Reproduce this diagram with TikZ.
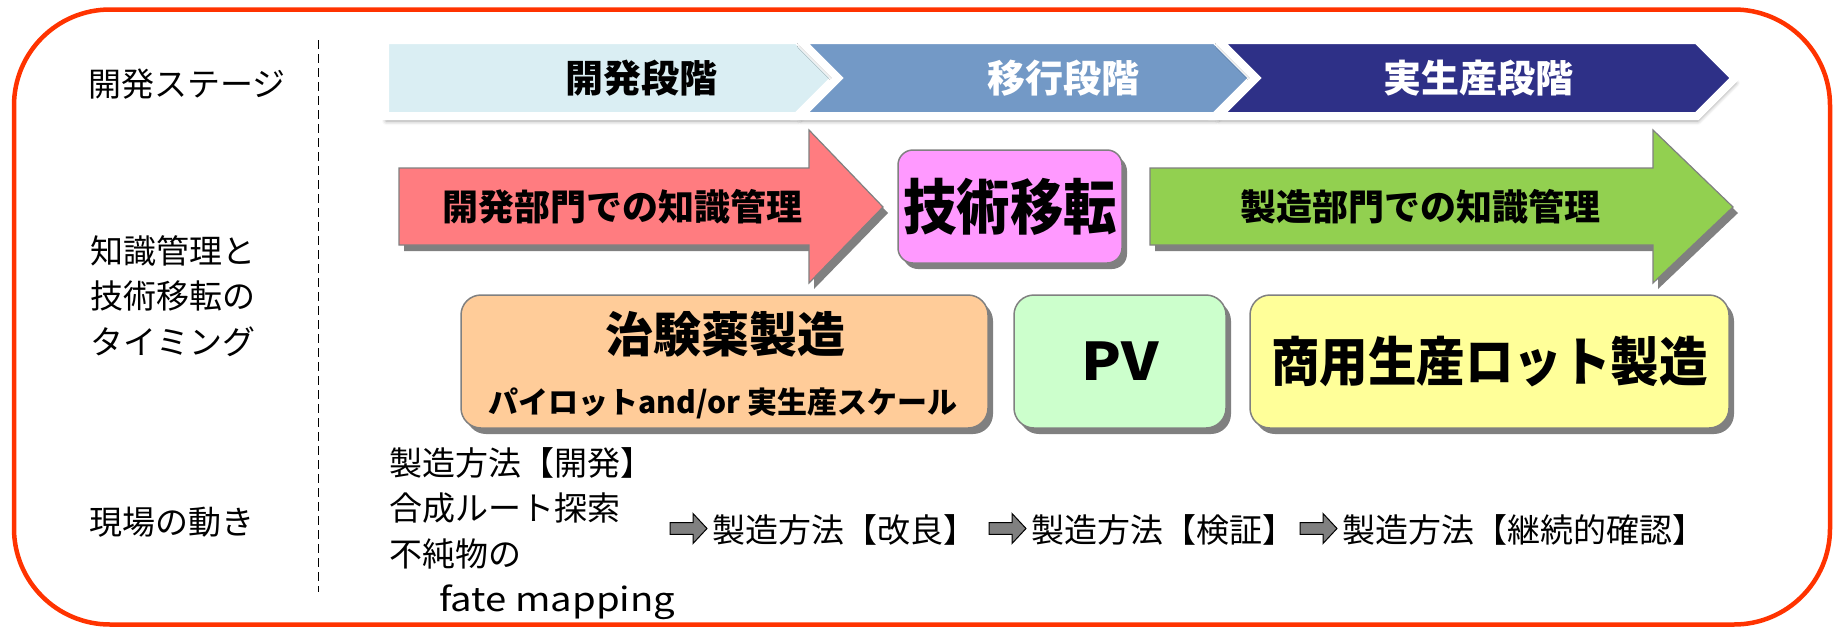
\documentclass[tikz,border=0pt]{standalone}
\usepackage{fontspec}
\usepackage{graphicx}
\newfontfamily\jp{Noto Sans CJK JP}
\usetikzlibrary{shadows,shadows.blur}
\definecolor{framered}{HTML}{FF3300}
\definecolor{stageA}{HTML}{DAEEF3}
\definecolor{stageB}{HTML}{7399C6}
\definecolor{stageC}{HTML}{2E3087}
\definecolor{devred}{HTML}{FF7C80}
\definecolor{mfggreen}{HTML}{92D050}
\definecolor{ttpink}{HTML}{FF99FF}
\definecolor{boxorange}{HTML}{FFCC99}
\definecolor{boxgreen}{HTML}{CCFFCC}
\definecolor{boxyellow}{HTML}{FFFF99}
\definecolor{edgegrey}{HTML}{808080}
\tikzset{
  chev/.style={draw=white, line width=8pt, line join=miter,
    blur shadow={shadow xshift=1pt, shadow yshift=-5pt, shadow blur radius=4pt, shadow opacity=40}},
  hardshadow/.style={drop shadow={shadow xshift=5pt, shadow yshift=-6pt, opacity=1, fill=black!50}},
  bigarrow/.style={draw=edgegrey, line width=1.2pt, hardshadow},
  rbox/.style={draw=edgegrey, line width=1.5pt, rounded corners=20pt, hardshadow, inner sep=0pt},
  lbl/.style={font=\jp\fontsize{33}{45.5}\selectfont, inner sep=0pt, anchor=west},
  stagetxt/.style={font=\jp\bfseries\fontsize{38}{40}\selectfont, inner sep=0pt},
  kmtxt/.style={font=\jp\bfseries\fontsize{36}{40}\selectfont, inner sep=0pt},
  divider/.style={line width=1.6pt, dash pattern=on 9pt off 5pt},
  blockarr/.pic={\draw[fill=edgegrey, draw=black, line width=1pt]
    (0,-5.8) -- (23,-5.8) -- (23,-15) -- (37,0) -- (23,15) -- (23,5.8) -- (0,5.8) -- cycle;}
}
\begin{document}
\begin{tikzpicture}[x=1pt,y=-1pt]
\useasboundingbox (0,0) rectangle (1839,627);
% outer frame
\draw[framered, line width=4.5pt, rounded corners=96pt] (14,9.5) rectangle (1830,624.5);
% divider
\coordinate (dtop) at (318.5,40);
\coordinate (dbot) at (318.5,592);
\draw[divider] (dtop) -- (dbot);
% stage chevrons
\filldraw[chev, fill=stageA] (385,40) -- (797,40) -- (835,78) -- (797,116) -- (385,116) -- cycle;
\filldraw[chev, fill=stageB] (800,40) -- (1215,40) -- (1253,78) -- (1215,116) -- (800,116) -- (838,78) -- cycle;
\filldraw[chev, fill=stageC] (1218,40) -- (1697,40) -- (1735,78) -- (1697,116) -- (1218,116) -- (1256,78) -- cycle;
\node[stagetxt] (s1) at (641,78) {開発段階};
\node[stagetxt, text=white] (s2) at (1063,78) {移行段階};
\node[stagetxt, text=white] (s3) at (1478,78) {実生産段階};
% left labels
\node[lbl] (lab1) at (88,84) {開発ステージ};
\node[lbl, anchor=north west, align=left] (lab2) at (90,235) {知識管理と\\技術移転の\\タイミング};
\node[lbl] (lab3) at (89,522) {現場の動き};
% knowledge management arrows
\filldraw[bigarrow, fill=devred] (399,168) -- (809,168) -- (809,130) -- (883,207) -- (809,283) -- (809,245) -- (399,245) -- cycle;
\node[kmtxt] (devkm) at (622,207) {開発部門での知識管理};
\filldraw[bigarrow, fill=mfggreen] (1150,168) -- (1653,168) -- (1653,130) -- (1733,207) -- (1653,283) -- (1653,245) -- (1150,245) -- cycle;
\node[kmtxt] (mfgkm) at (1420,207) {製造部門での知識管理};
\node[rbox, fill=ttpink, rounded corners=15pt, minimum width=224pt, minimum height=113pt,
  font=\jp\bfseries\fontsize{60}{62}\selectfont] (tt) at (1010,206.5) {\scalebox{0.89}[1]{技術移転}};
% manufacturing boxes
\node[rbox, fill=boxorange, minimum width=527pt, minimum height=133pt] (ctm) at (724.5,361.5) {};
\node[font=\jp\bfseries\fontsize{48}{50}\selectfont, inner sep=0pt] (ctmT) at (725,334) {治験薬製造};
\node[font=\jp\bfseries\fontsize{30}{32}\selectfont, inner sep=0pt] (ctmS) at (723,403) {パイロットand/or 実生産スケール};
\node[rbox, fill=boxgreen, minimum width=212pt, minimum height=133pt,
  font=\jp\bfseries\fontsize{52}{54}\selectfont] (pv) at (1120,361.5) {\scalebox{1.12}[1]{PV}};
\node[rbox, fill=boxyellow, minimum width=479pt, minimum height=133pt,
  font=\jp\bfseries\fontsize{53}{55}\selectfont] (comm) at (1489.5,361.5) {\scalebox{0.916}[1]{商用生産ロット製造}};
% shop-floor steps
\node[lbl, anchor=north west, align=left] (step0) at (389,447) {製造方法【開発】\\合成ルート探索\\不純物の\\\hspace*{50pt}\scalebox{1.16}[1]{fate mapping}};
\node[lbl] (step1) at (712,530) {製造方法【改良】};
\node[lbl] (step2) at (1031,530) {製造方法【検証】};
\node[lbl] (step3) at (1342,530) {製造方法【継続的確認】};
\path (step1.west) ++(-42,-1.5) pic {blockarr};
\path (step2.west) ++(-42,-1.5) pic {blockarr};
\path (step3.west) ++(-42,-1.5) pic {blockarr};
\end{tikzpicture}
\end{document}
